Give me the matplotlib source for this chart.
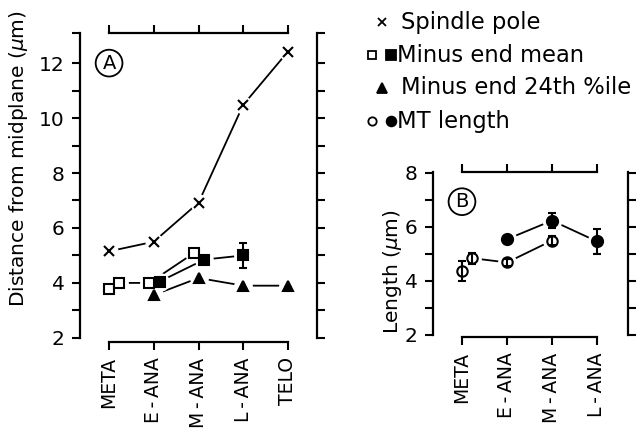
import matplotlib.pyplot as plt
from matplotlib.lines import Line2D

# Panel A - distance from the midplane at each stage
stages_a = ['META', 'E\u2009-\u2009ANA', 'M\u2009-\u2009ANA', 'L\u2009-\u2009ANA', 'TELO']
pole_x = [0, 1, 2, 3, 4]
pole_y = [5.15, 5.5, 6.92, 10.48, 12.42]

mean_open_x = [0, 0.22, 0.9, 1.9]
mean_open_y = [3.78, 4.0, 4.0, 5.09]

mean_fill_x = [1.13, 2.13, 3.0]
mean_fill_y = [4.05, 4.85, 5.0]
mean_fill_err = [0, 0, 0.44]

pct_x = [1, 2, 3, 4]
pct_y = [3.56, 4.18, 3.9, 3.9]

# Panel B - MT length at each stage
stages_b = ['META', 'E\u2009-\u2009ANA', 'M\u2009-\u2009ANA', 'L\u2009-\u2009ANA']
len_open_x = [0, 0.22, 1, 2]
len_open_y = [4.35, 4.84, 4.68, 5.49]
len_open_err = [0.37, 0.2, 0.14, 0.16]

len_fill_x = [1, 2, 3]
len_fill_y = [5.54, 6.23, 5.46]
len_fill_err = [0.13, 0.27, 0.46]

W, H = 639, 434
fig = plt.figure(figsize=(W / 100, H / 100), dpi=100)


def draw(ax, x, y, marker, ms, fc, yerr=None):
    # line, white halo to leave a gap, error bars, then the marker itself
    ax.plot(x, y, color='black', lw=1.3, zorder=2)
    ax.plot(x, y, ls='none', marker='o', ms=ms + 5, mfc='white', mec='white', zorder=3)
    if yerr is not None:
        ax.errorbar(x, y, yerr=yerr, fmt='none', ecolor='black', elinewidth=1.5,
                    capsize=3, capthick=1.5, zorder=4)
    ax.plot(x, y, ls='none', marker=marker, ms=ms, mfc=fc, mec='black', mew=1.5, zorder=5)


def frame(ax, xmax, ytop, major, minor):
    # detached frame: every spine is cut to its own range, ticks point outward
    for s in ax.spines.values():
        s.set_linewidth(1.6)
    ax.spines['top'].set_position(('data', ytop))
    ax.spines['top'].set_bounds(0, xmax)
    ax.spines['bottom'].set_bounds(0, xmax)
    ax.spines['left'].set_bounds(2, ytop)
    ax.spines['right'].set_bounds(2, ytop)
    ax.set_yticks(major)
    ax.set_yticks(minor, minor=True)
    ax.tick_params(axis='both', which='both', direction='out', length=6, width=1.5,
                   top=True, right=True, labeltop=False, labelright=False)
    ax.tick_params(axis='y', labelsize=14.5, pad=5)
    ax.tick_params(axis='x', labelsize=13.5, pad=5, labelrotation=90)


def circled(ax, x, y, letter):
    ax.text(x, y, letter, ha='center', va='center', fontsize=14,
            bbox=dict(boxstyle='circle,pad=0.2', fc='white', ec='black', lw=1.3))


# ---- panel A ----
axA = fig.add_axes([80 / W, 1 - 342 / H, 237 / W, 314.6 / H])
axA.set_xlim(-0.65, 4.65)
axA.set_ylim(1.85, 13.3)
draw(axA, pole_x, pole_y, 'x', 7, 'black')
draw(axA, mean_open_x, mean_open_y, 's', 7.5, 'white')
draw(axA, mean_fill_x, mean_fill_y, 's', 7.5, 'black', yerr=mean_fill_err)
draw(axA, pct_x, pct_y, '^', 7.5, 'black')
frame(axA, 4, 13.1, [2, 4, 6, 8, 10, 12], [3, 5, 7, 9, 11, 13.1])
axA.set_xticks(range(len(stages_a)))
axA.set_xticklabels(stages_a)
axA.set_ylabel(r'Distance from midplane ($\mu$m)', fontsize=14.5)
axA.yaxis.set_label_coords(-0.21, 0.583)
circled(axA, 0, 12.0, 'A')

# ---- panel B ----
axB = fig.add_axes([433 / W, 1 - 337 / H, 195 / W, 166.9 / H])
axB.set_xlim(-0.644, 3.689)
axB.set_ylim(1.92, 8.1)
draw(axB, len_open_x, len_open_y, 'o', 7.5, 'none', yerr=len_open_err)
draw(axB, len_fill_x, len_fill_y, 'o', 8, 'black', yerr=len_fill_err)
frame(axB, 3, 8.03, [2, 4, 6, 8], [3, 5, 7])
axB.set_xticks(range(len(stages_b)))
axB.set_xticklabels(stages_b)
axB.set_ylabel(r'Length ($\mu$m)', fontsize=14.5)
axB.yaxis.set_label_coords(-0.15, 0.39)
circled(axB, 0, 6.93, 'B')


# ---- key at the top right ----
def key_marker(x, y, marker, ms, fc):
    fig.add_artist(Line2D([x / W], [1 - y / H], transform=fig.transFigure, ls='none',
                          marker=marker, ms=ms, mfc=fc, mec='black', mew=1.3))


def key_text(x, y, s):
    fig.text(x / W, 1 - y / H, s, ha='left', va='center', fontsize=16.3)


key_marker(382, 22, 'x', 6, 'black')
key_text(401, 22, 'Spindle pole')
key_marker(372, 55, 's', 6, 'white')
key_marker(391, 55, 's', 6.5, 'black')
key_text(397, 55, 'Minus end mean')
key_marker(382, 88, '^', 6.5, 'black')
key_text(401, 88, 'Minus end 24th %ile')
key_marker(372, 121, 'o', 6, 'white')
key_marker(391, 121, 'o', 7, 'black')
key_text(397, 121, 'MT length')

fig.savefig('out.png', dpi=100)
